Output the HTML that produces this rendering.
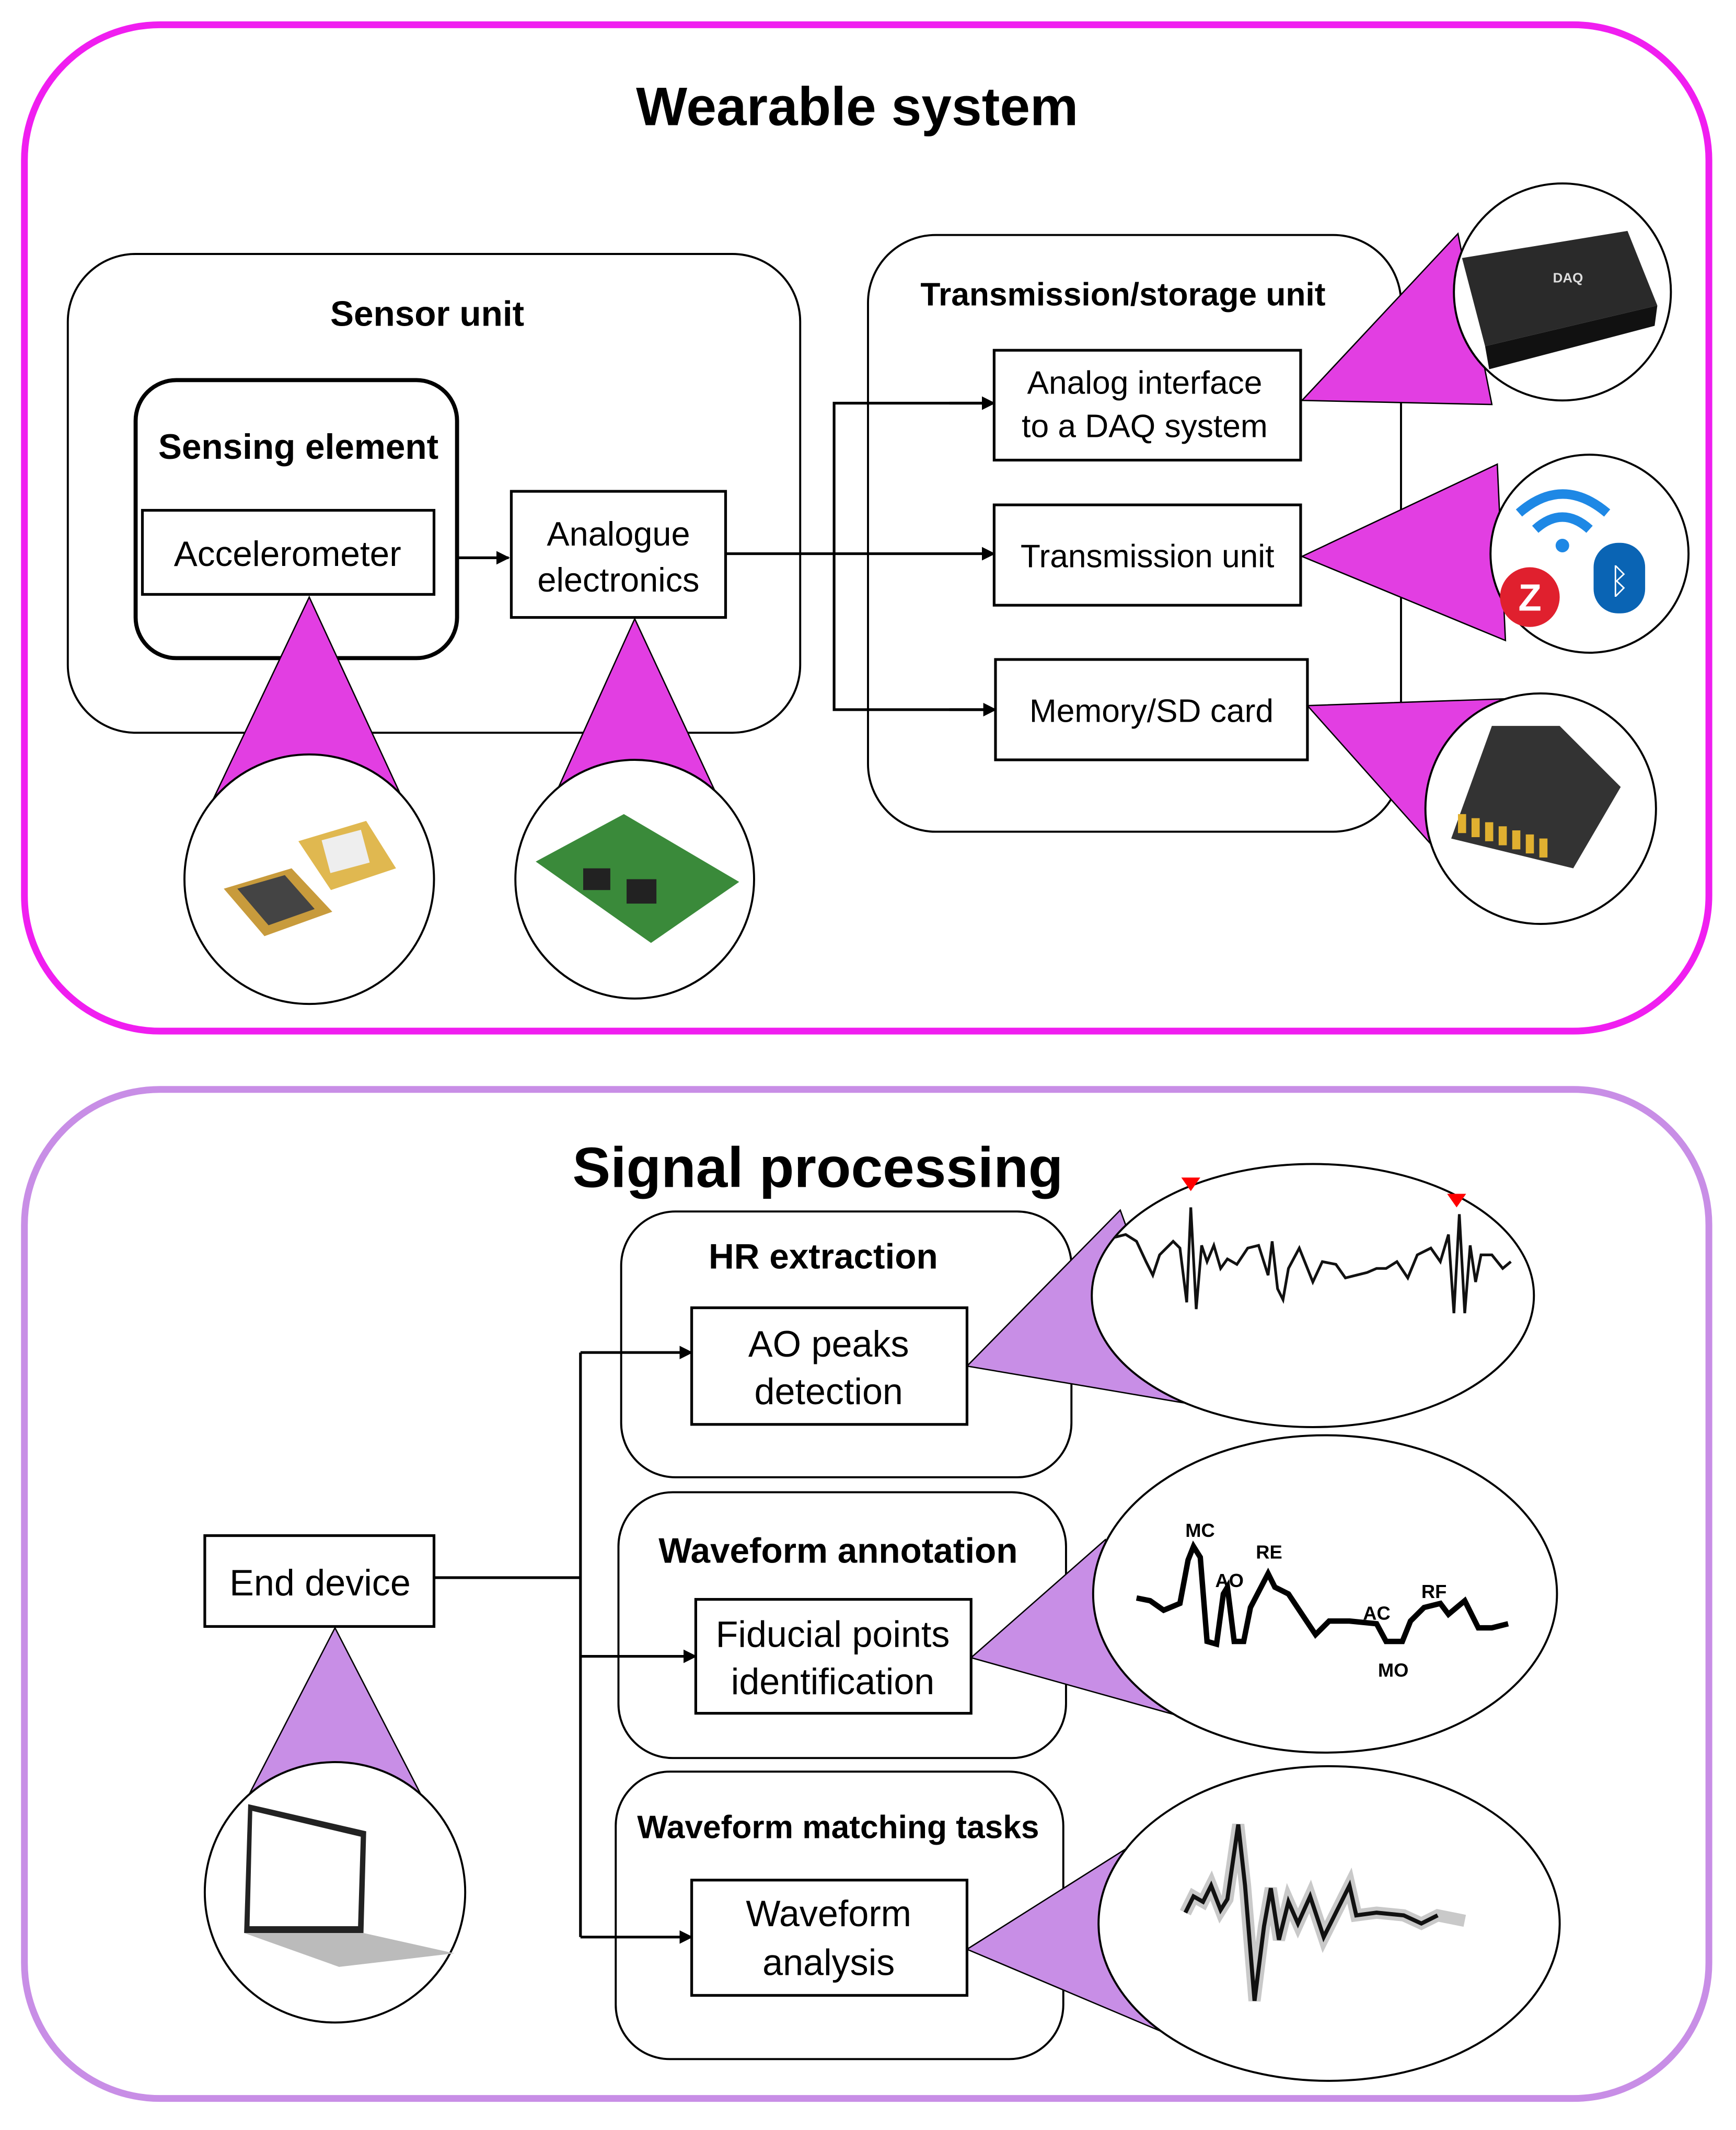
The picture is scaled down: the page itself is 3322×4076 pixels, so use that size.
<!DOCTYPE html>
<html><head><meta charset="utf-8"><style>
html,body{margin:0;padding:0;background:#fff}
svg{display:block}
text{font-family:"Liberation Sans",sans-serif;fill:#000}
</style></head><body>
<svg width="3322" height="4076" viewBox="0 0 1280 1570" xmlns="http://www.w3.org/2000/svg">
<defs>
<marker id="ar" markerWidth="10" markerHeight="10" refX="9" refY="5" orient="auto" markerUnits="userSpaceOnUse"><path d="M0,0 L10,5 L0,10 Z" fill="#000"/></marker>
</defs>
<rect width="1280" height="1570" fill="#fff"/>
<!-- TOP -->
<rect x="18" y="18" width="1242" height="742" rx="100" fill="none" stroke="#f01ef0" stroke-width="5"/>
<text x="632" y="92" font-size="40" font-weight="bold" text-anchor="middle">Wearable system</text>
<rect x="50" y="187" width="540" height="353" rx="50" fill="none" stroke="#000" stroke-width="1.5"/>
<text x="315" y="240" font-size="26" font-weight="bold" text-anchor="middle">Sensor unit</text>
<rect x="100" y="280" width="237" height="205" rx="30" fill="none" stroke="#000" stroke-width="3"/>
<text x="220" y="338" font-size="26" font-weight="bold" text-anchor="middle">Sensing element</text>
<rect x="105" y="376" width="215" height="62" fill="#fff" stroke="#000" stroke-width="2"/>
<text x="212" y="417" font-size="26" text-anchor="middle">Accelerometer</text>
<line x1="337" y1="411" x2="375" y2="411" stroke="#000" stroke-width="2" marker-end="url(#ar)"/>
<rect x="377" y="362" width="158" height="93" fill="#fff" stroke="#000" stroke-width="2"/>
<text x="456" y="402" font-size="25" text-anchor="middle">Analogue</text>
<text x="456" y="436" font-size="25" text-anchor="middle">electronics</text>
<rect x="640" y="173" width="393" height="440" rx="50" fill="none" stroke="#000" stroke-width="1.5"/>
<text x="828" y="225" font-size="24" font-weight="bold" text-anchor="middle">Transmission/storage unit</text>
<line x1="535" y1="408" x2="733" y2="408" stroke="#000" stroke-width="2" marker-end="url(#ar)"/>
<polyline points="733,297 615,297 615,523 734,523" fill="none" stroke="#000" stroke-width="2"/>
<line x1="700" y1="297" x2="733" y2="297" stroke="#000" stroke-width="2" marker-end="url(#ar)"/>
<line x1="700" y1="523" x2="734" y2="523" stroke="#000" stroke-width="2" marker-end="url(#ar)"/>
<rect x="733" y="258" width="226" height="81" fill="#fff" stroke="#000" stroke-width="2"/>
<text x="844" y="290" font-size="24" text-anchor="middle">Analog interface</text>
<text x="844" y="322" font-size="24" text-anchor="middle">to a DAQ system</text>
<rect x="733" y="372" width="226" height="74" fill="#fff" stroke="#000" stroke-width="2"/>
<text x="846" y="418" font-size="24" text-anchor="middle">Transmission unit</text>
<rect x="734" y="486" width="230" height="74" fill="#fff" stroke="#000" stroke-width="2"/>
<text x="849" y="532" font-size="24" text-anchor="middle">Memory/SD card</text>
<!-- magenta callouts -->
<g fill="#e23ee2" stroke="#000" stroke-width="1">
<polygon points="228,440 152,600 302,600"/>
<polygon points="468,456 402,602 536,602"/>
<polygon points="960,295 1075,172 1100,298"/>
<polygon points="960,410 1104,342 1110,472"/>
<polygon points="964,520 1110,515 1062,630"/>
</g>
<g fill="#fff" stroke="#000" stroke-width="1.5">
<circle cx="228" cy="648" r="92"/>
<circle cx="468" cy="648" r="88"/>
<circle cx="1152" cy="215" r="80"/>
<circle cx="1172" cy="408" r="73"/>
<circle cx="1136" cy="596" r="85"/>
</g>
<!-- chips -->
<g>
<polygon points="165,655 215,640 245,672 195,690" fill="#c89b3c"/>
<polygon points="175,655 210,645 232,670 198,682" fill="#444"/>
<polygon points="220,620 270,605 292,640 244,656" fill="#e0b850"/>
<rect x="240" y="615" width="30" height="25" fill="#eee" transform="rotate(-15 255 628)"/>
</g>
<!-- board -->
<polygon points="395,635 460,600 545,650 480,695" fill="#3a8a3a"/>
<rect x="430" y="640" width="20" height="16" fill="#222"/>
<rect x="462" y="648" width="22" height="18" fill="#222"/>
<!-- DAQ -->
<polygon points="1078,190 1200,170 1222,225 1095,255" fill="#2a2a2a"/>
<polygon points="1095,255 1222,225 1220,240 1098,272" fill="#111"/>
<text x="1145" y="208" font-size="10" fill="#ddd" style="fill:#ddd" font-weight="bold">DAQ</text>
<!-- wireless -->
<path d="M1120,378 Q1152,350 1185,378" fill="none" stroke="#1e88e5" stroke-width="7"/>
<path d="M1132,390 Q1152,372 1172,390" fill="none" stroke="#1e88e5" stroke-width="7"/>
<circle cx="1152" cy="402" r="5" fill="#1e88e5"/>
<circle cx="1128" cy="440" r="22" fill="#e0202e"/>
<text x="1128" y="450" font-size="28" font-weight="bold" text-anchor="middle" style="fill:#fff">Z</text>
<rect x="1175" y="400" width="38" height="52" rx="18" fill="#0a64b4"/>
<text x="1194" y="437" font-size="26" text-anchor="middle" style="fill:#fff">ᛒ</text>
<!-- SD -->
<polygon points="1100,535 1150,535 1195,580 1160,640 1070,618" fill="#333"/>
<g fill="#e0b030"><rect x="1075" y="600" width="6" height="14"/><rect x="1085" y="603" width="6" height="14"/><rect x="1095" y="606" width="6" height="14"/><rect x="1105" y="609" width="6" height="14"/><rect x="1115" y="612" width="6" height="14"/><rect x="1125" y="615" width="6" height="14"/><rect x="1135" y="618" width="6" height="14"/></g>

<!-- BOTTOM -->
<rect x="18" y="803" width="1242" height="744" rx="100" fill="none" stroke="#c88ee6" stroke-width="5"/>
<text x="603" y="875" font-size="42" font-weight="bold" text-anchor="middle">Signal processing</text>
<rect x="458" y="893" width="332" height="196" rx="40" fill="none" stroke="#000" stroke-width="1.5"/>
<text x="607" y="935" font-size="26" font-weight="bold" text-anchor="middle">HR extraction</text>
<rect x="456" y="1100" width="330" height="196" rx="40" fill="none" stroke="#000" stroke-width="1.5"/>
<text x="618" y="1152" font-size="26" font-weight="bold" text-anchor="middle">Waveform annotation</text>
<rect x="454" y="1306" width="330" height="212" rx="40" fill="none" stroke="#000" stroke-width="1.5"/>
<text x="618" y="1355" font-size="24" font-weight="bold" text-anchor="middle">Waveform matching tasks</text>
<line x1="320" y1="1163" x2="428" y2="1163" stroke="#000" stroke-width="2"/>
<line x1="428" y1="997" x2="428" y2="1428" stroke="#000" stroke-width="2"/>
<line x1="428" y1="997" x2="510" y2="997" stroke="#000" stroke-width="2" marker-end="url(#ar)"/>
<line x1="428" y1="1221" x2="513" y2="1221" stroke="#000" stroke-width="2" marker-end="url(#ar)"/>
<line x1="428" y1="1428" x2="510" y2="1428" stroke="#000" stroke-width="2" marker-end="url(#ar)"/>
<g fill="#c88ee6" stroke="#000" stroke-width="1">
<polygon points="713,1007 826,892 878,1035"/>
<polygon points="716,1222 815,1135 866,1264"/>
<polygon points="713,1437 838,1358 862,1500"/>
<polygon points="247,1200 180,1330 314,1330"/>
</g>
<rect x="510" y="964" width="203" height="86" fill="#fff" stroke="#000" stroke-width="2"/>
<text x="611" y="1000" font-size="27" text-anchor="middle">AO peaks</text>
<text x="611" y="1035" font-size="27" text-anchor="middle">detection</text>
<rect x="513" y="1179" width="203" height="84" fill="#fff" stroke="#000" stroke-width="2"/>
<text x="614" y="1214" font-size="27" text-anchor="middle">Fiducial points</text>
<text x="614" y="1249" font-size="27" text-anchor="middle">identification</text>
<rect x="510" y="1386" width="203" height="85" fill="#fff" stroke="#000" stroke-width="2"/>
<text x="611" y="1420" font-size="27" text-anchor="middle">Waveform</text>
<text x="611" y="1456" font-size="27" text-anchor="middle">analysis</text>
<rect x="151" y="1132" width="169" height="67" fill="#fff" stroke="#000" stroke-width="2"/>
<text x="236" y="1176" font-size="27" text-anchor="middle">End device</text>
<g fill="#fff" stroke="#000" stroke-width="1.5">
<ellipse cx="968" cy="955" rx="163" ry="97"/>
<ellipse cx="977" cy="1175" rx="171" ry="117"/>
<ellipse cx="980" cy="1418" rx="170" ry="116"/>
<circle cx="247" cy="1395" r="96"/>
</g>
<!-- laptop -->
<polygon points="183,1330 270,1350 268,1425 180,1425" fill="#222"/>
<polygon points="186,1335 266,1354 264,1420 184,1420" fill="#fff"/>
<polygon points="180,1425 268,1425 335,1440 250,1450" fill="#bbb"/>
<!-- waveform 1 -->
<polyline fill="none" stroke="#111" stroke-width="2" points="822,912 830,910 838,915 845,930 850,940 855,925 865,915 870,920 875,960 878,890 882,965 886,918 890,930 895,918 900,935 905,928 912,932 920,920 928,918 935,940 938,915 942,950 946,958 950,935 958,920 962,930 968,945 975,930 985,932 992,942 1000,940 1008,938 1015,935 1022,935 1030,930 1038,942 1045,925 1055,920 1062,930 1068,910 1072,968 1076,895 1080,968 1084,918 1088,945 1092,925 1100,925 1108,935 1114,930"/>
<polygon points="871,868 885,868 878,878" fill="#f00"/>
<polygon points="1067,880 1081,880 1074,890" fill="#f00"/>
<!-- waveform 2 -->
<polyline fill="none" stroke="#000" stroke-width="4" points="838,1178 848,1180 858,1187 870,1182 876,1150 880,1140 885,1148 890,1210 897,1212 902,1175 905,1170 910,1210 917,1210 922,1185 935,1160 940,1170 950,1175 960,1190 970,1205 980,1195 995,1195 1015,1197 1022,1210 1034,1210 1040,1195 1050,1185 1062,1182 1068,1190 1080,1180 1090,1200 1100,1200 1112,1197"/>
<g font-size="14" font-weight="bold"><text x="874" y="1133">MC</text><text x="896" y="1170">AO</text><text x="926" y="1149">RE</text><text x="1005" y="1194">AC</text><text x="1016" y="1236">MO</text><text x="1048" y="1178">RF</text></g>
<!-- waveform 3 -->
<polyline fill="none" stroke="#888" stroke-width="9" stroke-opacity="0.45" points="874,1410 880,1398 887,1402 893,1390 900,1408 905,1400 913,1345 918,1390 925,1475 932,1420 937,1392 943,1430 950,1402 957,1418 966,1398 976,1428 985,1410 995,1390 1000,1412 1015,1410 1035,1412 1048,1418 1060,1412 1080,1416"/>
<polyline fill="none" stroke="#111" stroke-width="3" points="874,1410 880,1398 887,1402 893,1390 900,1408 905,1400 913,1345 918,1390 925,1475 932,1420 937,1392 943,1430 950,1402 957,1418 966,1398 976,1428 985,1410 995,1390 1000,1412 1015,1410 1035,1412 1048,1418 1060,1412"/>
</svg>
</body></html>
